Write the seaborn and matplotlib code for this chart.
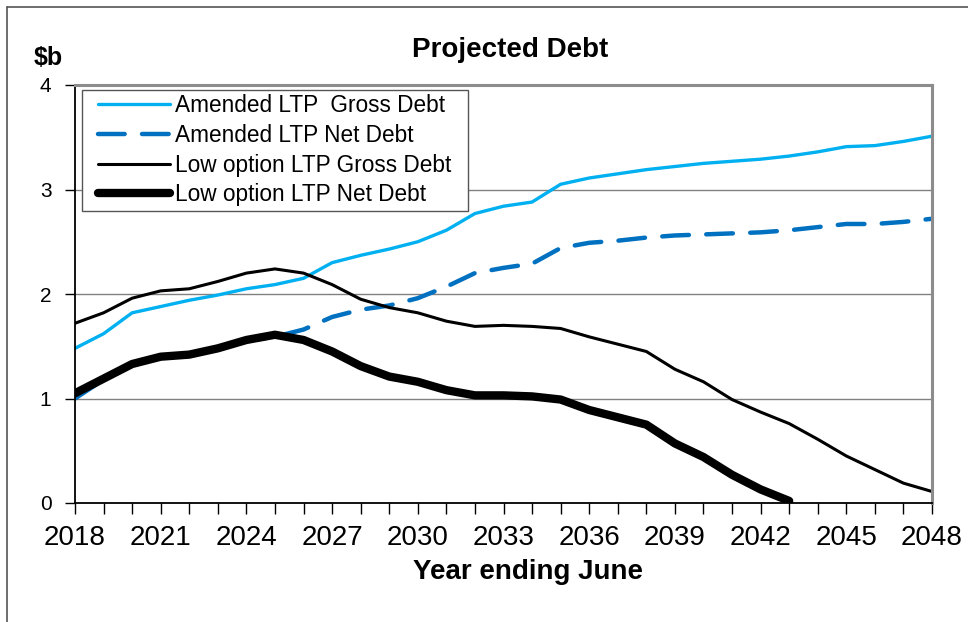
import numpy as np
import pandas as pd
import matplotlib
matplotlib.use("Agg")
import matplotlib.pyplot as plt
from matplotlib.lines import Line2D
from matplotlib.patches import Rectangle
from matplotlib.ticker import MultipleLocator
import seaborn as sns

# Years ending June, 2018 to 2048
years = list(range(2018, 2049))

# Amended LTP, $b
amended_gross = [1.48, 1.62, 1.82, 1.88, 1.94, 1.99, 2.05, 2.09, 2.15, 2.30,
                 2.37, 2.43, 2.50, 2.61, 2.77, 2.84, 2.88, 3.05, 3.11, 3.15,
                 3.19, 3.22, 3.25, 3.27, 3.29, 3.32, 3.36, 3.41, 3.42, 3.46, 3.51]
amended_net = [1.00, 1.18, 1.32, 1.39, 1.42, 1.48, 1.55, 1.59, 1.66, 1.78,
               1.85, 1.89, 1.96, 2.07, 2.20, 2.25, 2.29, 2.44, 2.49, 2.51,
               2.54, 2.56, 2.57, 2.58, 2.59, 2.61, 2.64, 2.67, 2.67, 2.69, 2.72]

# Low option LTP, $b
low_gross = [1.72, 1.82, 1.96, 2.03, 2.05, 2.12, 2.20, 2.24, 2.20, 2.09,
             1.95, 1.87, 1.82, 1.74, 1.69, 1.70, 1.69, 1.67, 1.59, 1.52,
             1.45, 1.28, 1.16, 0.99, 0.87, 0.76, 0.61, 0.45, 0.32, 0.19, 0.11]
low_net = [1.05, 1.19, 1.33, 1.40, 1.42, 1.48, 1.56, 1.61, 1.56, 1.45,
           1.31, 1.21, 1.16, 1.08, 1.03, 1.03, 1.02, 0.99, 0.89, 0.82,
           0.75, 0.57, 0.44, 0.27, 0.13, 0.02]

x_ticks = list(range(2018, 2049, 3))

sns.set_theme(style="white")
plt.rcParams['font.family'] = ['Liberation Sans', 'DejaVu Sans']
plt.rcParams.update({'text.color': 'black', 'axes.labelcolor': 'black',
                     'xtick.color': 'black', 'ytick.color': 'black'})

W, H = 968, 622
fig = plt.figure(figsize=(W / 100, H / 100), dpi=100)
ax = fig.add_axes([75 / W, 1 - 503 / H, 857 / W, 418 / H])

# horizontal gridlines behind the lines
for gy in [1, 2, 3]:
    ax.axhline(gy, color='#808080', linewidth=1.0, zorder=0)

sns.lineplot(x=years, y=amended_gross, ax=ax, color='#00B0F0', linewidth=2.4,
             label='Amended LTP  Gross Debt')
sns.lineplot(x=years, y=amended_net, ax=ax, color='#0070C0', linewidth=3.2,
             label='Amended LTP Net Debt')
sns.lineplot(x=years, y=low_gross, ax=ax, color='black', linewidth=2.2,
             label='Low option LTP Gross Debt')
sns.lineplot(x=years[:len(low_net)], y=low_net, ax=ax, color='black', linewidth=6,
             label='Low option LTP Net Debt', solid_capstyle='round')

# dashed style for amended net debt
net_line = [ln for ln in ax.lines if ln.get_label() == 'Amended LTP Net Debt'][0]
net_line.set_dashes([6.0, 3.9])
net_line.set_dash_capstyle('round')

ax.set_xlim(2018, 2048)
ax.set_ylim(0, 4)
ax.set_xticks(x_ticks)
ax.xaxis.set_minor_locator(MultipleLocator(1))
ax.set_yticks([0, 1, 2, 3, 4])
ax.tick_params(axis='x', which='both', direction='out', length=8, width=1,
               color='black', labelsize=20, pad=8, bottom=True)
ax.tick_params(axis='y', direction='out', length=7, width=1, color='black',
               labelsize=15, pad=10, left=True)

for side in ['top', 'right']:
    ax.spines[side].set_color('#8c8c8c')
    ax.spines[side].set_linewidth(2.2)
for side in ['left', 'bottom']:
    ax.spines[side].set_color('black')
    ax.spines[side].set_linewidth(1.3)

ax.set_xlabel('Year ending June', fontsize=20, fontweight='bold')
ax.xaxis.set_label_coords((528 - 75) / 857, -0.135)
ax.set_ylabel('')
fig.text(48 / W, 1 - 65 / H, '$b', fontsize=18, fontweight='bold',
         ha='center', va='baseline')
fig.text(510 / W, 1 - 57 / H, 'Projected Debt', fontsize=20,
         fontweight='bold', ha='center', va='baseline')

# legend without its own frame; the box is drawn separately
leg = ax.legend(loc='upper left', bbox_to_anchor=(98 / W, 1 - 94 / H),
                bbox_transform=fig.transFigure, borderaxespad=0, borderpad=0,
                fontsize=16.3, handlelength=3.2, handletextpad=0.2,
                labelspacing=0.30, frameon=False)
leg.set_zorder(6)
ax.add_patch(Rectangle((82 / W, 1 - 211 / H), (468 - 82) / W, (211 - 90) / H,
                       transform=fig.transFigure, facecolor='white',
                       edgecolor='#555555', linewidth=1.0, zorder=5.5,
                       clip_on=False))

# chart area border (top and left edges visible)
fig.add_artist(Line2D([7 / W, 7 / W], [0, 1 - 7 / H], color='#555555',
                      linewidth=1.2, transform=fig.transFigure))
fig.add_artist(Line2D([7 / W, 1], [1 - 7 / H, 1 - 7 / H], color='#555555',
                      linewidth=1.2, transform=fig.transFigure))

fig.savefig('out.png', dpi=100, facecolor='white')
